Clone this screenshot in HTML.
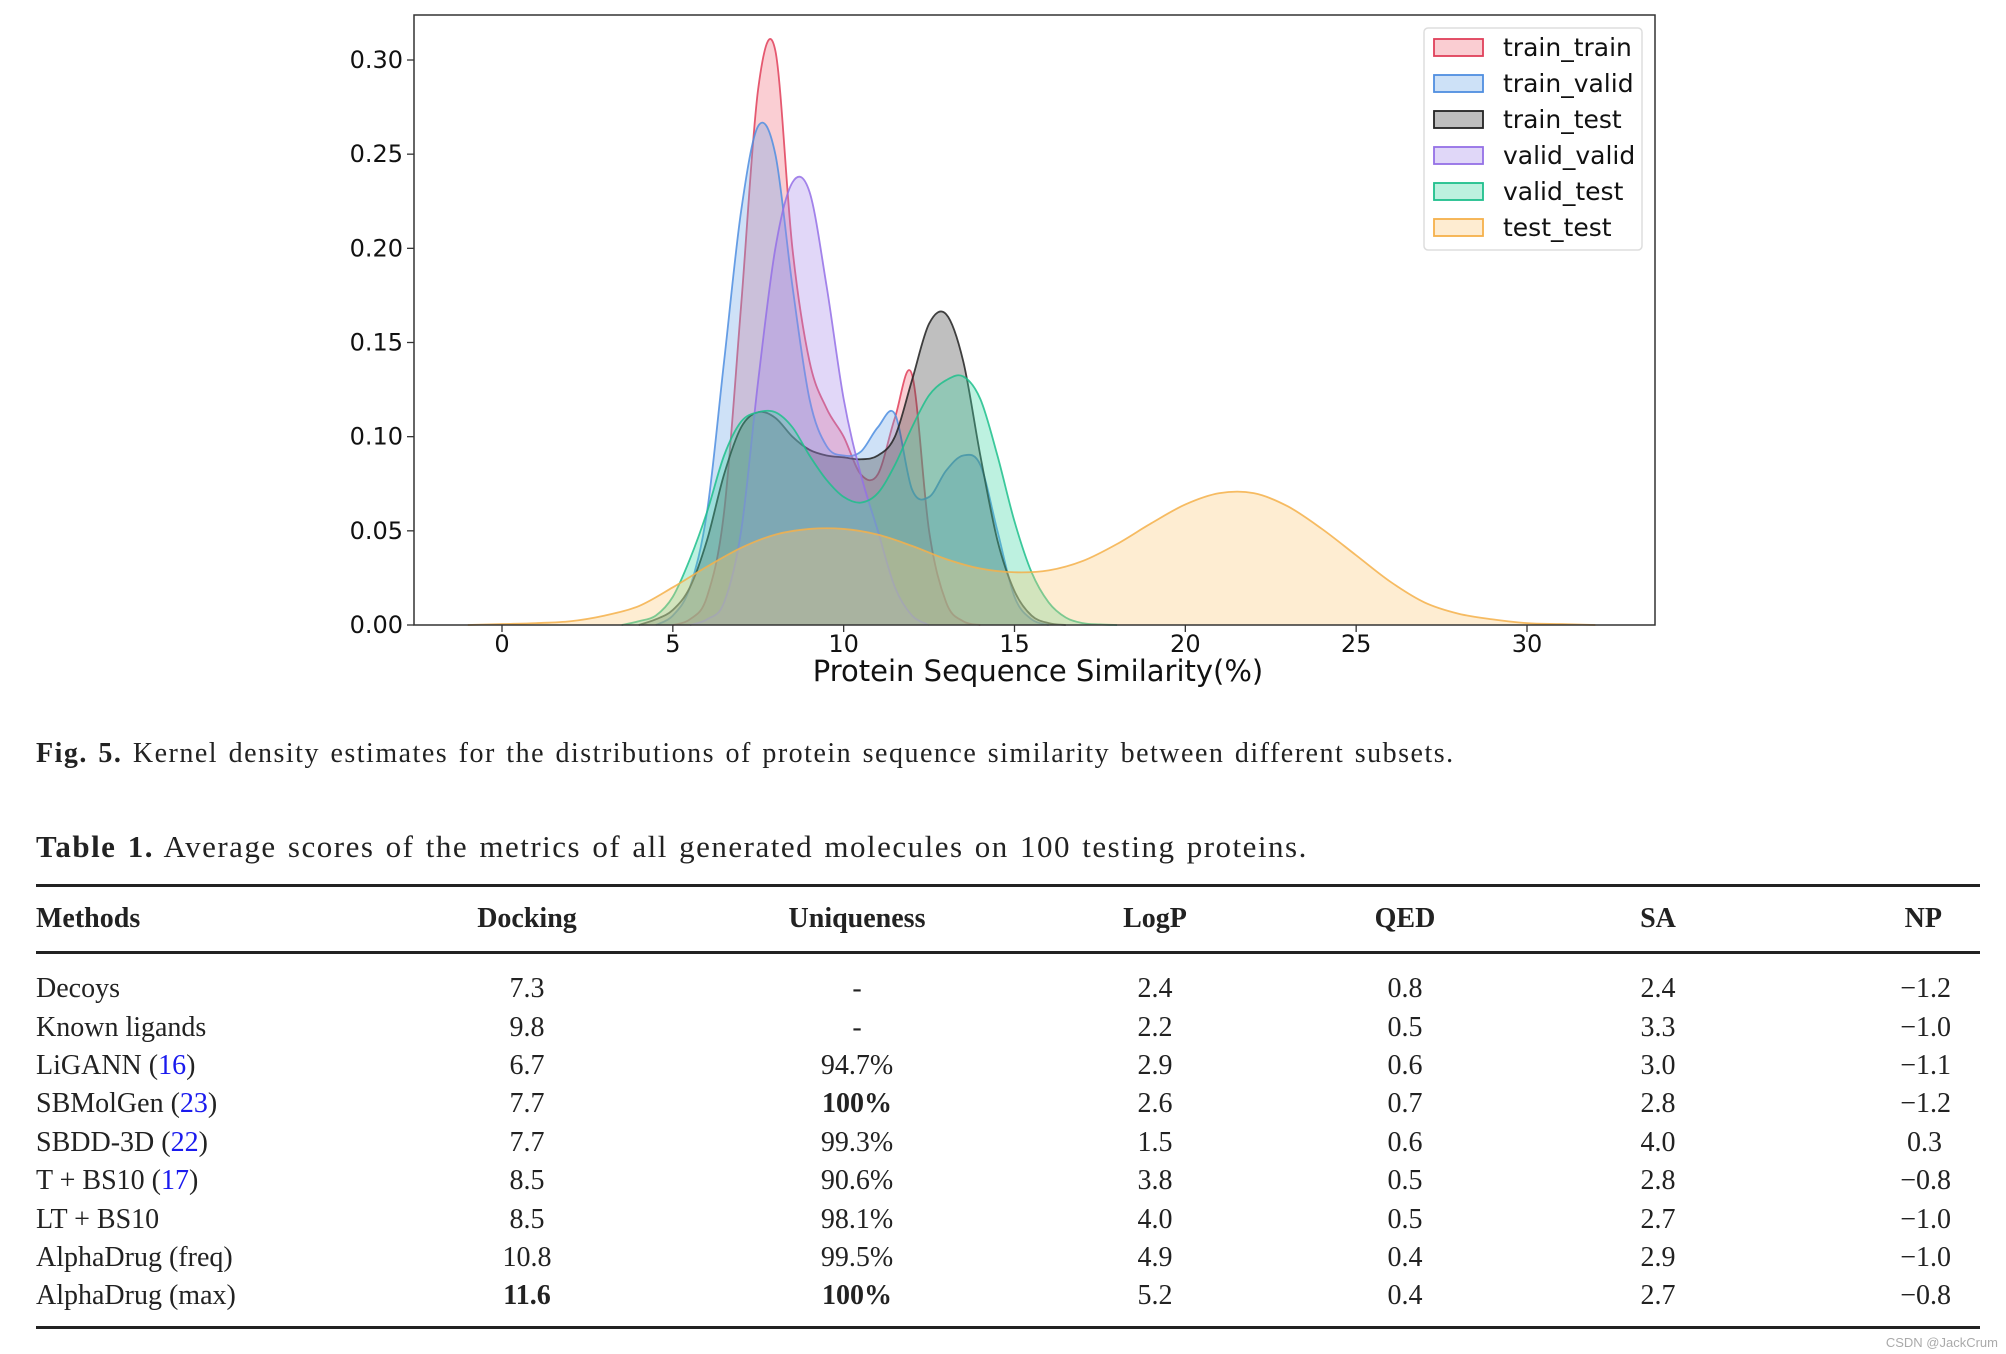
<!DOCTYPE html>
<html><head><meta charset="utf-8"><style>
body{margin:0;background:#fff;width:2006px;height:1354px;overflow:hidden;position:relative}
svg{position:absolute;left:0;top:0}
.cap{position:absolute;left:36px;font-family:"Liberation Serif",serif;color:#222;white-space:nowrap}
table{position:absolute;left:36px;top:884px;width:1944px;border-collapse:collapse;font-family:"Liberation Serif",serif;font-size:28px;color:#222;table-layout:fixed}
th,td{text-align:center;padding:0;height:38.4px}
th{font-weight:bold;height:64px}
th:first-child,td:first-child{text-align:left}
thead tr{border-top:3px solid #222;border-bottom:3px solid #222}
tbody tr:first-child td{padding-top:16px;height:38.4px}
tbody tr:last-child td{padding-bottom:10px}
tbody{border-bottom:3px solid #222}
.ref{color:#1a1aee}
.np{text-align:right!important;padding-right:29px}
</style></head><body>
<svg id="chart" width="2006" height="700"></svg>
<div class="cap" style="top:738px;font-size:28px;letter-spacing:1.5px;word-spacing:2px"><b>Fig. 5.</b> Kernel density estimates for the distributions of protein sequence similarity between different subsets.</div>
<div class="cap" style="top:829px;font-size:31px;letter-spacing:1.5px;word-spacing:2px"><b>Table 1.</b> Average scores of the metrics of all generated molecules on 100 testing proteins.</div>
<table>
<colgroup><col style="width:328px"><col style="width:326px"><col style="width:334px"><col style="width:262px"><col style="width:238px"><col style="width:268px"><col style="width:188px"></colgroup>
<thead><tr><th>Methods</th><th>Docking</th><th>Uniqueness</th><th>LogP</th><th>QED</th><th>SA</th><th class="np" style="padding-right:38px">NP</th></tr></thead>
<tbody>
<tr><td>Decoys</td><td>7.3</td><td>-</td><td>2.4</td><td>0.8</td><td>2.4</td><td class="np">−1.2</td></tr>
<tr><td>Known ligands</td><td>9.8</td><td>-</td><td>2.2</td><td>0.5</td><td>3.3</td><td class="np">−1.0</td></tr>
<tr><td>LiGANN (<span class="ref">16</span>)</td><td>6.7</td><td>94.7%</td><td>2.9</td><td>0.6</td><td>3.0</td><td class="np">−1.1</td></tr>
<tr><td>SBMolGen (<span class="ref">23</span>)</td><td>7.7</td><td><b>100%</b></td><td>2.6</td><td>0.7</td><td>2.8</td><td class="np">−1.2</td></tr>
<tr><td>SBDD-3D (<span class="ref">22</span>)</td><td>7.7</td><td>99.3%</td><td>1.5</td><td>0.6</td><td>4.0</td><td class="np" style="padding-right:38px">0.3</td></tr>
<tr><td>T + BS10 (<span class="ref">17</span>)</td><td>8.5</td><td>90.6%</td><td>3.8</td><td>0.5</td><td>2.8</td><td class="np">−0.8</td></tr>
<tr><td>LT + BS10</td><td>8.5</td><td>98.1%</td><td>4.0</td><td>0.5</td><td>2.7</td><td class="np">−1.0</td></tr>
<tr><td>AlphaDrug (freq)</td><td>10.8</td><td>99.5%</td><td>4.9</td><td>0.4</td><td>2.9</td><td class="np">−1.0</td></tr>
<tr><td>AlphaDrug (max)</td><td><b>11.6</b></td><td><b>100%</b></td><td>5.2</td><td>0.4</td><td>2.7</td><td class="np">−0.8</td></tr>
</tbody></table>
<div style="position:absolute;right:8px;bottom:4px;font:13px 'Liberation Sans',sans-serif;color:#aaa">CSDN @JackCrum</div>
<script>
const seriesNames=["train_train","train_valid","train_test","valid_valid","valid_test","test_test"];
const xTicks=[0,5,10,15,20,25,30];
const yTicks=[0,0.05,0.10,0.15,0.20,0.25,0.30];
const yTickLabels=["0.00","0.05","0.10","0.15","0.20","0.25","0.30"];
const ttX=[5,5.5,6,6.5,7,7.5,8,8.5,9,9.5,10,10.5,11,11.5,12,12.5,13,13.5,14];
const ttY=[0,0.003,0.015,0.06,0.17,0.285,0.305,0.2,0.14,0.115,0.1,0.08,0.08,0.11,0.133,0.05,0.012,0.002,0];
const tvX=[4.5,5,5.5,6,6.5,7,7.5,8,8.5,9,9.5,10,10.5,11,11.5,12,12.5,13,13.5,14,14.5,15,15.5,16];
const tvY=[0,0.005,0.02,0.06,0.14,0.22,0.265,0.25,0.18,0.12,0.095,0.09,0.092,0.105,0.112,0.072,0.068,0.082,0.09,0.085,0.05,0.015,0.003,0];
const tsX=[4,4.5,5,5.5,6,6.5,7,7.5,8,8.5,9,9.5,10,10.5,11,11.5,12,12.5,13,13.5,14,14.5,15,15.5,16,16.5];
const tsY=[0,0.003,0.008,0.02,0.045,0.08,0.105,0.113,0.11,0.1,0.093,0.09,0.089,0.088,0.09,0.1,0.13,0.16,0.165,0.14,0.09,0.045,0.018,0.005,0.001,0];
const vvX=[5.5,6,6.5,7,7.5,8,8.5,9,9.5,10,10.5,11,11.5,12,12.5];
const vvY=[0,0.003,0.012,0.05,0.13,0.2,0.235,0.23,0.18,0.12,0.08,0.05,0.02,0.005,0];
const vtX=[3.5,4,4.5,5,5.5,6,6.5,7,7.5,8,8.5,9,9.5,10,10.5,11,11.5,12,12.5,13,13.5,14,14.5,15,15.5,16,16.5,17,17.5,18];
const vtY=[0,0.002,0.005,0.015,0.035,0.06,0.09,0.108,0.113,0.113,0.105,0.09,0.077,0.068,0.065,0.07,0.085,0.105,0.122,0.13,0.132,0.12,0.09,0.055,0.028,0.012,0.004,0.001,0.0003,0];
const teX=[-1,0,1,2,3,4,5,6,7,8,9,10,11,12,13,14,15,16,17,18,19,20,21,22,23,24,25,26,27,28,29,30,31,32];
const teY=[0,0.0005,0.001,0.002,0.005,0.01,0.02,0.031,0.041,0.048,0.051,0.051,0.048,0.042,0.035,0.03,0.028,0.029,0.034,0.043,0.054,0.064,0.07,0.07,0.063,0.051,0.037,0.023,0.012,0.006,0.003,0.001,0.0005,0];
const seriesX=[ttX,tvX,tsX,vvX,vtX,teX];
const seriesY=[ttY,tvY,tsY,vvY,vtY,teY];
const fills=["#f0707f","#6fa8e8","#444444","#a78bea","#3fd6a4","#fcc97a"];
const strokes=["#e0405a","#4f8ee0","#222222","#9470e6","#1fbf8c","#f5b04a"];
const NS="http://www.w3.org/2000/svg";
const svg=document.getElementById('chart');
const L=414,R=1655,T=15,B=625;
const sx=v=>502+(v-0)*(1527-502)/30;
const sy=v=>B-v*(B-60)/0.30;
function mk(tag,attrs,parent){const e=document.createElementNS(NS,tag);for(const k in attrs)e.setAttribute(k,attrs[k]);(parent||svg).appendChild(e);return e;}
function pathFor(xs,ys){
  const p=xs.map((x,i)=>[sx(x),sy(ys[i])]);
  let d="M"+p[0][0]+","+p[0][1];
  for(let i=0;i<p.length-1;i++){
    const p0=p[i-1]||p[i],p1=p[i],p2=p[i+1],p3=p[i+2]||p2;
    const c1x=p1[0]+(p2[0]-p0[0])/6,c1y=Math.min(B,p1[1]+(p2[1]-p0[1])/6);
    const c2x=p2[0]-(p3[0]-p1[0])/6,c2y=Math.min(B,p2[1]-(p3[1]-p1[1])/6);
    d+=" C"+c1x+","+c1y+" "+c2x+","+c2y+" "+p2[0]+","+p2[1];
  }
  return d;
}
for(let s=0;s<seriesNames.length;s++){
  const d=pathFor(seriesX[s],seriesY[s]);
  const xs=seriesX[s];
  const f=mk('path',{d:d+" L"+sx(xs[xs.length-1])+","+B+" L"+sx(xs[0])+","+B+" Z",fill:fills[s],'fill-opacity':0.34,stroke:'none'});
  
  
  const l=mk('path',{d:d,fill:'none',stroke:strokes[s],'stroke-width':1.8,'stroke-opacity':0.85});
  
  
}
const fr=mk('rect',{x:L,y:T,width:R-L,height:B-T,fill:'none',stroke:'#333','stroke-width':1.5});


const font='"DejaVu Sans","Liberation Sans",sans-serif';
xTicks.forEach(v=>{
  mk('line',{x1:sx(v),x2:sx(v),y1:B,y2:B+7,stroke:'#333','stroke-width':1.3});
  const t=mk('text',{x:sx(v),y:B+27,'text-anchor':'middle','font-size':24,'font-family':font,fill:'#111'});
  t.textContent=v;
  
  
});
yTicks.forEach((v,i)=>{
  mk('line',{x1:L-7,x2:L,y1:sy(v),y2:sy(v),stroke:'#333','stroke-width':1.3});
  const t=mk('text',{x:L-11,y:sy(v)+8,'text-anchor':'end','font-size':24,'font-family':font,fill:'#111'});
  t.textContent=yTickLabels[i];
  
  
});
const xl=mk('text',{x:1038,y:681,'text-anchor':'middle','font-size':29,'font-family':font,fill:'#111'});
xl.textContent="Protein Sequence Similarity(%)";


const lg=mk('g',{});


mk('rect',{x:1424,y:28,width:218,height:222,rx:4,fill:'#fff','fill-opacity':0.85,stroke:'#ddd','stroke-width':1.5},lg);
seriesNames.forEach((n,i)=>{
  const y=47+i*36;
  const sw=mk('rect',{x:1434,y:y-8,width:49,height:17,fill:fills[i],'fill-opacity':0.35,stroke:strokes[i],'stroke-width':1.8},lg);
  
  
  const t=mk('text',{x:1503,y:y+9,'font-size':25,'font-family':font,fill:'#111'},lg);
  t.textContent=n;
  
  
});
</script>
</body></html>
